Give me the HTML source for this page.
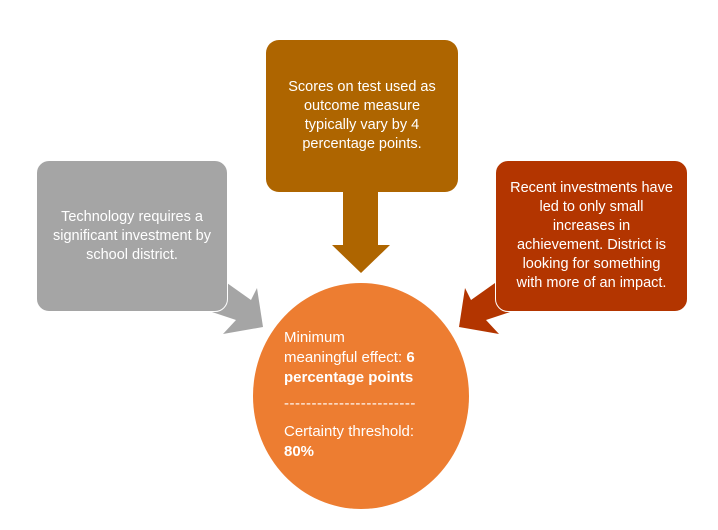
<!DOCTYPE html>
<html><head><style>
body{margin:0;background:#fff;width:718px;height:530px;overflow:hidden;position:relative;font-family:"Liberation Sans",sans-serif;}
.box{position:absolute;border-radius:13px;color:#fff;display:flex;align-items:center;justify-content:center;text-align:center;font-size:14.5px;line-height:19px;box-sizing:border-box;padding:0 8px;}
.c{position:absolute;left:284px;top:328px;color:#fff;font-size:15px;line-height:20px;}
</style></head><body>
<svg width="718" height="530" style="position:absolute;left:0;top:0">
<ellipse cx="361" cy="396" rx="108" ry="113" fill="#ed7d31"/>
<polygon points="343,190 378,190 378,245 390,245 361,273 332,245 343,245" fill="#ae6500"/>
<polygon points="215,270 227,283 251,300 257,288 263,327 223,334 236,320 212,312 200,300" fill="#a5a5a5"/>
<polygon points="507,270 495,283 471,300 465,288 459,327 499,334 486,320 510,312 522,300" fill="#b33500"/>
</svg>
<div class="box" style="left:36px;top:160px;width:192px;height:152px;background:#a5a5a5;border:1px solid #fff;padding:0 14px">Technology requires a significant investment by school district.</div>
<div class="box" style="left:266px;top:40px;width:192px;height:152px;background:#ae6500;align-items:flex-start;padding:38px 18px 0">Scores on test used as outcome measure typically vary by 4 percentage points.</div>
<div class="box" style="left:495px;top:160px;width:193px;height:152px;background:#b33500;border:1px solid #fff;padding:0 14px">Recent investments have led to only small increases in achievement. District is looking for something with more of an impact.</div>
<div class="c">Minimum<br>meaningful effect: <b>6</b><br><b>percentage points</b><br><div style="margin-top:6px;letter-spacing:0.5px">------------------------</div><div style="margin-top:8px">Certainty threshold:<br><b>80%</b></div></div>
</body></html>
